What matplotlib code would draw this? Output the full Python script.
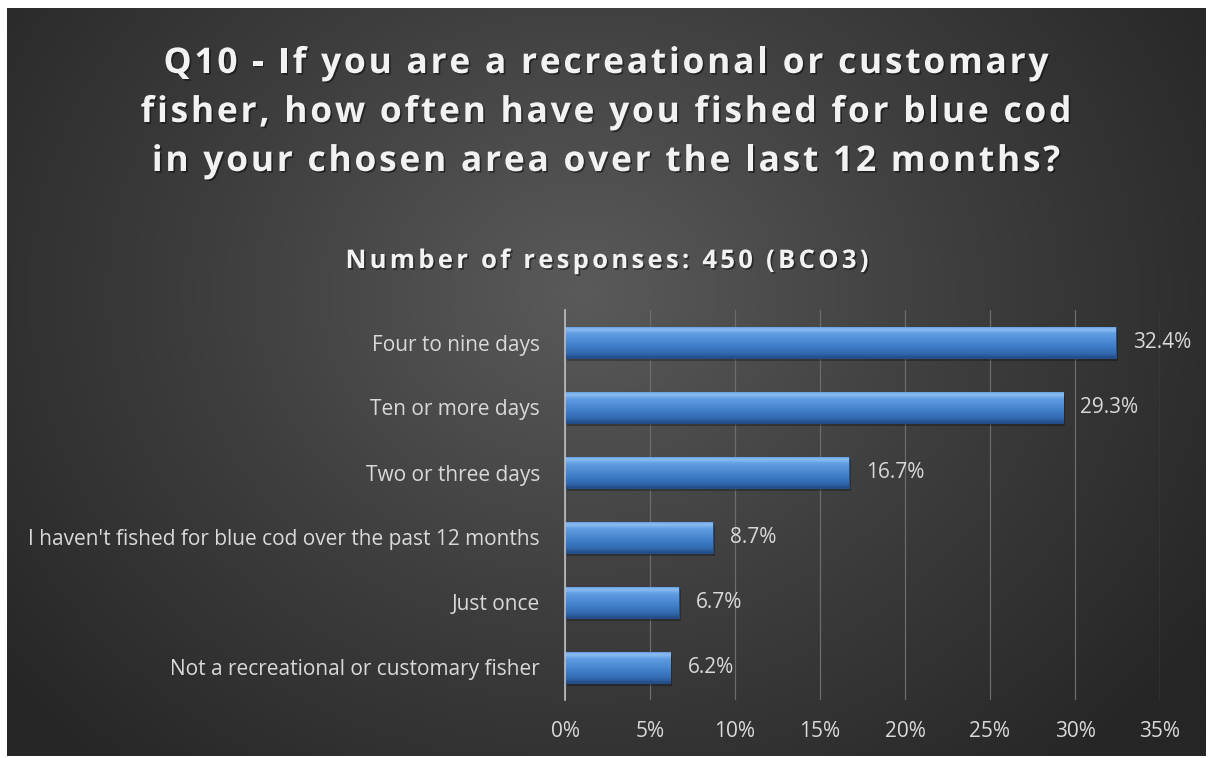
import numpy as np
import matplotlib
matplotlib.use("Agg")
import matplotlib.pyplot as plt
from matplotlib.colors import LinearSegmentedColormap
from matplotlib.font_manager import findfont, FontProperties
from matplotlib.ft2font import FT2Font
import matplotlib.patheffects as pe

categories = [
    "Four to nine days",
    "Ten or more days",
    "Two or three days",
    "I haven't fished for blue cod over the past 12 months",
    "Just once",
    "Not a recreational or customary fisher",
]
values = [32.4, 29.3, 16.7, 8.7, 6.7, 6.2]
value_labels = ["32.4%", "29.3%", "16.7%", "8.7%", "6.7%", "6.2%"]
xticks = [0, 5, 10, 15, 20, 25, 30, 35]
xtick_labels = ["0%", "5%", "10%", "15%", "20%", "25%", "30%", "35%"]
title_lines = ["Q10 - If you are a recreational or customary",
               "fisher, how often have you fished for blue cod",
               "in your chosen area over the last 12 months?"]
subtitle = "Number of responses: 450 (BCO3)"

W, H = 1209, 758
DPI = 100
fig = plt.figure(figsize=(W / DPI, H / DPI), dpi=DPI)
fig.patch.set_facecolor("white")

# background panel with radial gradient
bx0, by0, bx1, by1 = 7, 8, 1206, 756
bg = fig.add_axes([bx0 / W, 1 - by1 / H, (bx1 - bx0) / W, (by1 - by0) / H])
bg.set_axis_off()
ny, nx = 300, 480
yy, xx = np.mgrid[0:ny, 0:nx]
cx, cy = nx * 0.48, ny * 0.38
r = np.sqrt(((xx - cx) / (nx * 0.62)) ** 2 + ((yy - cy) / (ny * 0.85)) ** 2)
r = np.clip(r, 0, 1)
bgcmap = LinearSegmentedColormap.from_list("bg", ["#5a5a5a", "#3e3e3e", "#262626"])
bg.imshow(r, cmap=bgcmap, aspect="auto", extent=[0, 1, 0, 1], origin="upper",
          interpolation="bilinear", vmin=0, vmax=1)
bg.set_xlim(0, 1)
bg.set_ylim(0, 1)

font = "Open Sans"
txt = "#d9d9d9"
shadow = [pe.withSimplePatchShadow(offset=(1.2, -1.2), shadow_rgbFace="black", alpha=0.45)]


def advances(s, size, weight):
    fp = FontProperties(family=font, weight=weight, size=size)
    f = FT2Font(findfont(fp))
    f.set_size(size, DPI)
    return [f.load_char(ord(c)).linearHoriAdvance / 65536.0 for c in s]


def tracked_line(s, xc, ybase, size, weight, track):
    adv = advances(s, size, weight)
    total = sum(adv) + track * (len(s) - 1)
    x = xc - total / 2
    for c, a in zip(s, adv):
        if c != " ":
            fig.text(x / W, 1 - ybase / H, c, ha="left", va="baseline",
                     fontsize=size, fontweight=weight, family=font,
                     color="#f2f2f2", path_effects=shadow)
        x += a + track


def tracking_for(s, size, weight, target):
    adv = advances(s, size, weight)
    return (target - sum(adv)) / (len(s) - 1)


tsize = 25.5
ttrack = tracking_for(title_lines[0], tsize, "bold", 885)
for line, yb in zip(title_lines, [73, 122, 171]):
    tracked_line(line, 606, yb, tsize, "bold", ttrack)

ssize = 18.5
strack = tracking_for(subtitle, ssize, "bold", 523)
tracked_line(subtitle, 607, 268, ssize, "bold", strack)

ax = fig.add_axes([565 / W, 1 - 700 / H, (1160 - 565) / W, (700 - 310) / H])
ax.patch.set_alpha(0)
y = np.arange(len(categories))
bars = ax.barh(y, values, height=0.48, color="#4a86d0", zorder=3,
               edgecolor="#24508a", linewidth=0.8)

grad = np.linspace(0, 1, 100).reshape(-1, 1)
bcmap = LinearSegmentedColormap.from_list(
    "bar", [(0, "#5a96dc"), (0.10, "#8cbdf2"), (0.24, "#609ce2"),
            (0.6, "#4180ca"), (0.86, "#3169b0"), (1.0, "#234c84")])
for b in bars:
    x0, y0 = b.get_x(), b.get_y()
    w, h = b.get_width(), b.get_height()
    im = ax.imshow(grad, cmap=bcmap, aspect="auto",
                   extent=[x0, x0 + w, y0 + h, y0], origin="upper",
                   zorder=4, interpolation="bilinear")
    im.set_clip_path(b)
    ax.barh(b.get_y() + h / 2 + 0.05, w, height=h, left=x0 + 0.12,
            color="black", alpha=0.28, zorder=2, linewidth=0)

ax.set_xlim(0, 35)
ax.set_ylim(len(categories) - 0.5, -0.5)

for yi, v, lab in zip(y, values, value_labels):
    ax.text(v + 1.0, yi, lab, va="center", ha="left", color=txt,
            fontsize=15, family=font, zorder=5)

ax.set_xticks(xticks)
ax.set_xticklabels(xtick_labels)
ax.set_yticks(y)
ax.set_yticklabels(categories)
ax.tick_params(axis="both", length=0, colors=txt, labelsize=15)
ax.tick_params(axis="x", pad=15)
ax.tick_params(axis="y", pad=18)
for lbl in ax.get_xticklabels() + ax.get_yticklabels():
    lbl.set_family(font)
    lbl.set_color(txt)
ax.grid(axis="x", color="#6c6c6c", linewidth=0.9, zorder=0)
for s in ["top", "right", "bottom"]:
    ax.spines[s].set_visible(False)
ax.spines["left"].set_color("#bfbfbf")
ax.spines["left"].set_linewidth(1.2)
ax.spines["left"].set_zorder(6)

fig.savefig("out.png", dpi=DPI, facecolor="white")
